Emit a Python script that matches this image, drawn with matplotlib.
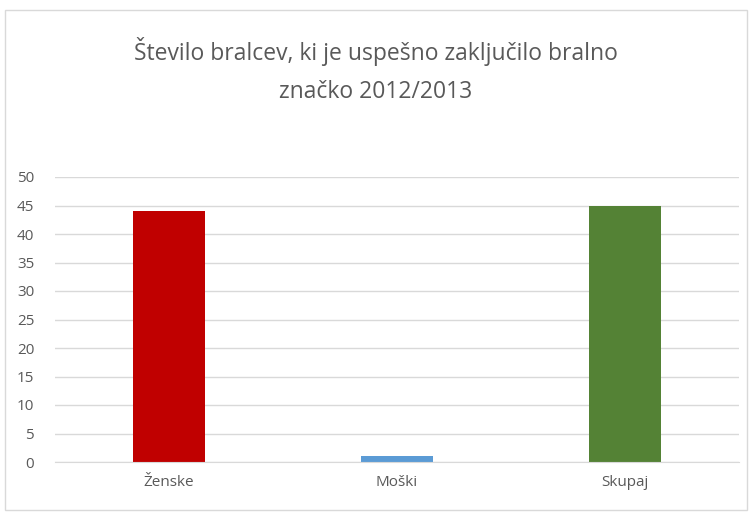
import matplotlib
matplotlib.use('Agg')
import matplotlib.pyplot as plt
from matplotlib.patches import Rectangle
from matplotlib import font_manager

#data:
categories = ['Ženske', 'Moški', 'Skupaj']
values = [44, 1, 45]
barColors = ['#C00000', '#5B9BD5', '#548235']
yTicks = list(range(0, 55, 5))

names = {f.name for f in font_manager.fontManager.ttflist}
family = 'Liberation Sans Narrow' if 'Liberation Sans Narrow' in names else 'Open Sans'
plt.rcParams['font.family'] = [family, 'DejaVu Sans']

fig = plt.figure(figsize=(7.51, 5.12), dpi=100)
fig.patches.append(Rectangle((5/751, 2/512), 742/751, 500/512,
                             transform=fig.transFigure, fill=False,
                             edgecolor='#D9D9D9', linewidth=1))
ax = fig.add_axes([55/751, 50/512, 684/751, 285/512])
x = range(len(categories))
ax.bar(x, values, width=0.316, color=barColors, zorder=2)
ax.set_xlim(-0.5, 2.5)
ax.set_ylim(0, 50)
ax.set_yticks(yTicks)
ax.set_xticks(list(x))
ax.set_xticklabels(categories)
ax.grid(axis='y', color='#D9D9D9', linewidth=1, zorder=0)
for s in ['top', 'right', 'left']:
    ax.spines[s].set_visible(False)
ax.spines['bottom'].set_color('#D9D9D9')
ax.tick_params(length=0, labelsize=11, colors='#595959', pad=9)
ax.tick_params(axis='y', pad=15)
fig.text(0.5, 0.862, 'Število bralcev, ki je uspešno zaključilo bralno\nznačko 2012/2013',
         ha='center', va='center', fontsize=16.5, color='#595959',
         linespacing=1.75)
fig.savefig('out.png', dpi=100)
